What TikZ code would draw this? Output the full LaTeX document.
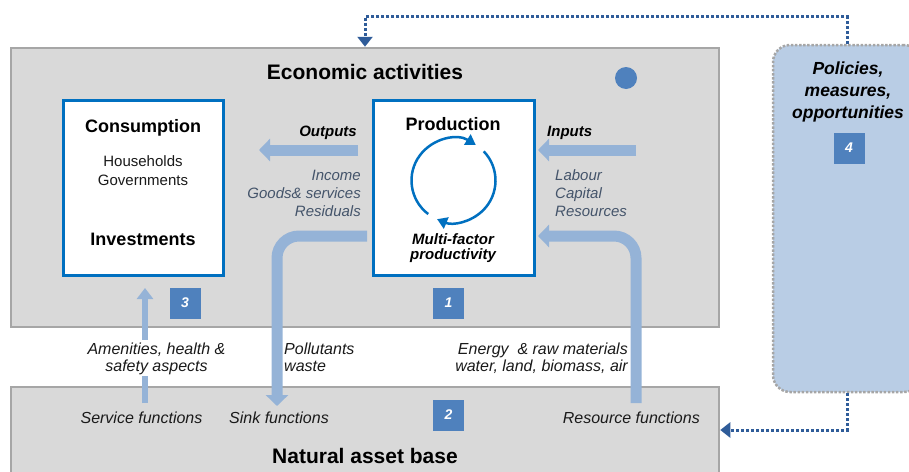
\documentclass[tikz,border=0pt]{standalone}
\usepackage{fontspec}
\setmainfont{Liberation Sans}
\usetikzlibrary{arrows.meta}
\definecolor{bggray}{HTML}{D9D9D9}
\definecolor{edgegray}{HTML}{A6A6A6}
\definecolor{boxblue}{HTML}{0070C0}
\definecolor{numblue}{HTML}{4F81BD}
\definecolor{flowblue}{HTML}{95B3D7}
\definecolor{polblue}{HTML}{B9CDE5}
\definecolor{dotblue}{HTML}{2F5C99}
\definecolor{slate}{HTML}{44546A}
\definecolor{txt}{HTML}{1A1A1A}
\begin{document}
\begin{tikzpicture}[x=1pt,y=-1pt,
  graybox/.style={draw=edgegray,line width=2.5pt,fill=bggray,inner sep=0pt},
  whitebox/.style={draw=boxblue,line width=3pt,fill=white,inner sep=0pt},
  polbox/.style={draw=edgegray,line width=2.5pt,dash pattern=on 2.5pt off 1.6pt,fill=polblue,rounded corners=17pt,inner sep=0pt},
  numbox/.style={fill=numblue,text=white,font=\bfseries\itshape\fontsize{14}{14}\selectfont,minimum size=31pt,inner sep=0pt},
  flow/.style={draw=flowblue,line width=11pt,-{Triangle[width=22pt,length=11pt]}},
  thinflow/.style={draw=flowblue,line width=5.5pt,-{Triangle[width=16pt,length=11pt]}},
  cyc/.style={draw=boxblue,line width=2.5pt,-{Triangle[width=12pt,length=10pt]}},
  dotc/.style={draw=dotblue,line width=3pt,dash pattern=on 3pt off 2pt,-{Triangle[width=15pt,length=10pt]}},
  head/.style={font=\bfseries\fontsize{18}{18}\selectfont,text=black,inner sep=0pt},
  big/.style={font=\bfseries\fontsize{21}{21}\selectfont,text=black,inner sep=0pt},
  lbl/.style={font=\fontsize{15}{15}\selectfont,text=txt,inner sep=0pt},
  ilbl/.style={font=\itshape\fontsize{16}{16}\selectfont,text=txt,inner sep=0pt},
  slbl/.style={font=\itshape\fontsize{15}{15}\selectfont,text=slate,inner sep=0pt},
  bilbl/.style={font=\bfseries\itshape\fontsize{15}{15}\selectfont,text=black,inner sep=0pt},
  pollbl/.style={font=\bfseries\itshape\fontsize{17.5}{17.5}\selectfont,text=black,inner sep=0pt}
]
\useasboundingbox (0,0) rectangle (909,471);
\clip (0,0) rectangle (909,471);

% main boxes
\node[graybox,minimum width=708pt,minimum height=279pt] (eco) at (365,187.5) {};
\node[graybox,minimum width=708pt,minimum height=130pt] (nat) at (365,452) {};
\node[polbox,minimum width=148pt,minimum height=347pt] (pol) at (847,218.5) {};
\node[whitebox,minimum width=160pt,minimum height=175pt] (cons) at (143,187.5) {};
\node[whitebox,minimum width=161pt,minimum height=175pt] (prod) at (453.5,187.5) {};

% titles
\node[big,anchor=base] (ecot) at (365,79) {Economic activities};
\node[big,anchor=base] (natt) at (365,463) {Natural asset base};
\node[circle,fill=numblue,minimum size=22pt,inner sep=0pt] (dot) at (626,78) {};

% consumption box texts
\node[head,anchor=base] (const) at (143,132) {Consumption};
\node[lbl,anchor=base] (hh) at (143,166) {Households};
\node[lbl,anchor=base] (gov) at (143,185) {Governments};
\node[head,anchor=base] (inv) at (143,245) {Investments};

% production box texts
\node[head,anchor=base] (prodt) at (453,130) {Production};
\node[bilbl,anchor=base] (mf1) at (453,244) {Multi-factor};
\node[bilbl,anchor=base] (mf2) at (453,259) {productivity};
\coordinate (cc) at (453.5,180.5);
\draw[cyc] (cc) ++(-233:42) arc[start angle=-233,end angle=-58,radius=42];
\draw[cyc] (cc) ++(-44:42) arc[start angle=-44,end angle=113,radius=42];

% outputs / inputs
\coordinate (outS) at (358,150);
\coordinate (outE) at (259,150);
\draw[flow] (outS) -- (outE);
\coordinate (inS) at (636,150);
\coordinate (inE) at (538,150);
\draw[flow] (inS) -- (inE);
\node[bilbl,anchor=base east] (outl) at (357,136) {Outputs};
\node[slbl,anchor=base east] (o1) at (361,180) {Income};
\node[slbl,anchor=base east] (o2) at (361,198) {Goods\& services};
\node[slbl,anchor=base east] (o3) at (361,216) {Residuals};
\node[bilbl,anchor=base west] (inl) at (547,136) {Inputs};
\node[slbl,anchor=base west] (i1) at (555,180) {Labour};
\node[slbl,anchor=base west] (i2) at (555,198) {Capital};
\node[slbl,anchor=base west] (i3) at (555,216) {Resources};

% sink and resource flows
\coordinate (sinkS) at (367,236);
\coordinate (sinkE) at (277,406);
\draw[flow,rounded corners=22pt] (sinkS) -| (sinkE);
\coordinate (resS) at (636,403);
\coordinate (resE) at (538,236);
\draw[flow,rounded corners=22pt] (resS) |- (resE);

% service flow
\coordinate (servS) at (145,403);
\coordinate (servE) at (145,288);
\draw[thinflow] (servS) -- (servE);
\node[ilbl,anchor=base,fill=white,inner ysep=2pt,inner xsep=1pt] (am1) at (156.5,354) {Amenities, health \&};
\node[ilbl,anchor=base,fill=white,inner ysep=2pt,inner xsep=1pt] (am2) at (156.5,371) {safety aspects};

\node[ilbl,anchor=base west] (pw1) at (284,354) {Pollutants};
\node[ilbl,anchor=base west] (pw2) at (284,371) {waste};
\node[ilbl,anchor=base east] (en1) at (628,354) {Energy \ \& raw materials};
\node[ilbl,anchor=base east] (en2) at (628,371) {water, land, biomass, air};

\node[ilbl,anchor=base] (sf) at (141.5,423) {Service functions};
\node[ilbl,anchor=base] (kf) at (279,423) {Sink functions};
\node[ilbl,anchor=base east] (rf) at (700,423) {Resource functions};

% number boxes
\node[numbox] (n3) at (185,303) {3};
\node[numbox] (n1) at (448.5,303) {1};
\node[numbox] (n2) at (448.5,415) {2};
\node[numbox] (n4) at (849,148) {4};

% policies
\node[pollbl,anchor=base] (p1) at (848,74) {Policies,};
\node[pollbl,anchor=base] (p2) at (848,96) {measures,};
\node[pollbl,anchor=base] (p3) at (848,118) {opportunities};

% dotted connectors
\draw[dotc] (pol.north) -- ++(0,-27) -| (eco.north);
\draw[dotc] (pol.south) |- (nat.east |- 0,430);
\end{tikzpicture}
\end{document}
